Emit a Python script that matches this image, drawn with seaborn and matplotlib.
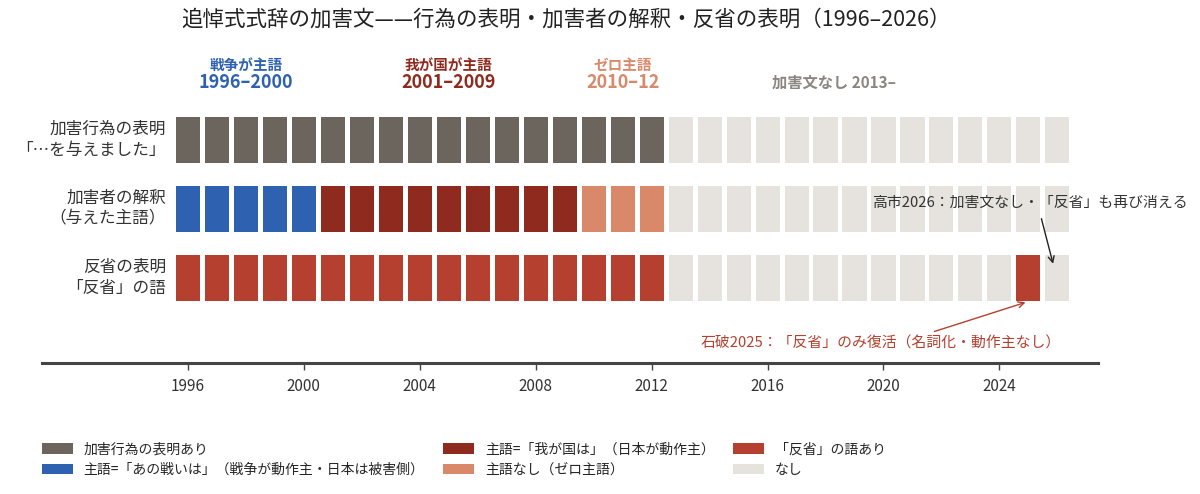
import seaborn as sns
import matplotlib.pyplot as plt
import pandas as pd
from matplotlib.patches import Patch

# ---- data ----
years = list(range(1996, 2027))
row_labels = ["加害行為の表明\n「…を与えました」", "加害者の解釈\n（与えた主語）", "反省の表明\n「反省」の語"]
act_row = ["act"] * 17 + ["none"] * 14                                   # 1996-2012 表明あり
subject_row = ["war"] * 5 + ["japan"] * 9 + ["zero"] * 3 + ["none"] * 14  # 1996-2000 / 2001-09 / 2010-12
remorse_row = ["remorse"] * 17 + ["none"] * 12 + ["remorse"] + ["none"]   # 2025 のみ復活
rows = [act_row, subject_row, remorse_row]

colors = {"act": "#6b655e", "war": "#2e62b1", "japan": "#8f2b1e", "zero": "#d9886a",
          "remorse": "#b5402f", "none": "#e6e3de"}
legend_keys = ["act", "war", "japan", "zero", "remorse", "none"]
legend_labels = ["加害行為の表明あり", "主語=「あの戦いは」（戦争が動作主・日本は被害側）",
                 "主語=「我が国は」（日本が動作主）", "主語なし（ゼロ主語）",
                 "「反省」の語あり", "なし"]

eras = [("戦争が主語", "1996–2000", 1998, "#2e62b1"),
        ("我が国が主語", "2001–2009", 2005, "#8f2b1e"),
        ("ゼロ主語", "2010–12", 2011, "#d9886a")]
ticks = [1996, 2000, 2004, 2008, 2012, 2016, 2020, 2024]

sns.set_theme(style="white")
plt.rcParams['font.family'] = ['Noto Sans CJK JP', 'DejaVu Sans']

fig = plt.figure(figsize=(12, 4.94), dpi=100)
ax = fig.add_axes([0.035, 0.265, 0.88, 0.634])

cell_h = 0.667
for i, r in enumerate(rows):
    df = pd.DataFrame({"year": years, "h": cell_h, "cat": r})
    sns.barplot(data=df, x="year", y="h", hue="cat", palette=colors, native_scale=True,
                dodge=False, width=0.83, saturation=1, legend=False, errorbar=None,
                bottom=i - cell_h / 2, linewidth=0, ax=ax)

ax.set_xlim(1990.97, 2027.4)
ax.set_ylim(3.24, -1.30)
ax.set_xlabel("")
ax.set_ylabel("")
ax.set_yticks([])
ax.set_xticks(ticks)
ax.set_xticklabels([str(t) for t in ticks], fontsize=11, color="#333333")
ax.tick_params(axis="x", direction="out", length=5, width=1, color="#444444", bottom=True, pad=6)
for s in ["top", "left", "right"]:
    ax.spines[s].set_visible(False)
ax.spines["bottom"].set_linewidth(2.2)
ax.spines["bottom"].set_color("#444444")

for i, lab in enumerate(row_labels):
    ax.text(1995.25, i, lab, ha="right", va="center", multialignment="right",
            fontsize=12, color="#333333", linespacing=1.3)

for head, span, xc, c in eras:
    ax.text(xc, -1.08, head, ha="center", va="center", fontsize=10.5, fontweight="bold", color=c)
    ax.text(xc, -0.83, span, ha="center", va="center", fontsize=13, fontweight="bold", color=c)
ax.text(2018.3, -0.83, "加害文なし 2013–", ha="center", va="center", fontsize=11,
        fontweight="bold", color="#8a8682")

ax.annotate("高市2026：加害文なし・「反省」も再び消える", xy=(2025.85, 1.8), xytext=(2019.6, 0.92),
            ha="left", va="center", fontsize=10.7, color="#333333",
            arrowprops=dict(arrowstyle="->", color="#222222", lw=1, relpos=(0.53, 0),
                            shrinkA=4, shrinkB=0))
ax.annotate("石破2025：「反省」のみ復活（名詞化・動作主なし）", xy=(2024.9, 2.36), xytext=(2019.9, 2.95),
            ha="center", va="center", fontsize=10.7, color="#b5402f",
            arrowprops=dict(arrowstyle="->", color="#b5402f", lw=1, relpos=(0.61, 1),
                            shrinkA=3, shrinkB=0))

fig.text(566 / 1200, 1 - 20 / 494, "追悼式式辞の加害文——行為の表明・加害者の解釈・反省の表明（1996–2026）",
         ha="center", va="center", fontsize=15.5, color="#222222")

handles = [Patch(facecolor=colors[k], edgecolor="none") for k in legend_keys]
fig.legend(handles, legend_labels, loc="lower left", bbox_to_anchor=(0.035, 0.035), ncol=3,
           frameon=False, fontsize=10, handlelength=2.2, handleheight=0.8, handletextpad=0.8,
           columnspacing=1.35, labelspacing=0.45, borderpad=0, borderaxespad=0)

plt.savefig("out.png", dpi=100)
plt.close('all')
